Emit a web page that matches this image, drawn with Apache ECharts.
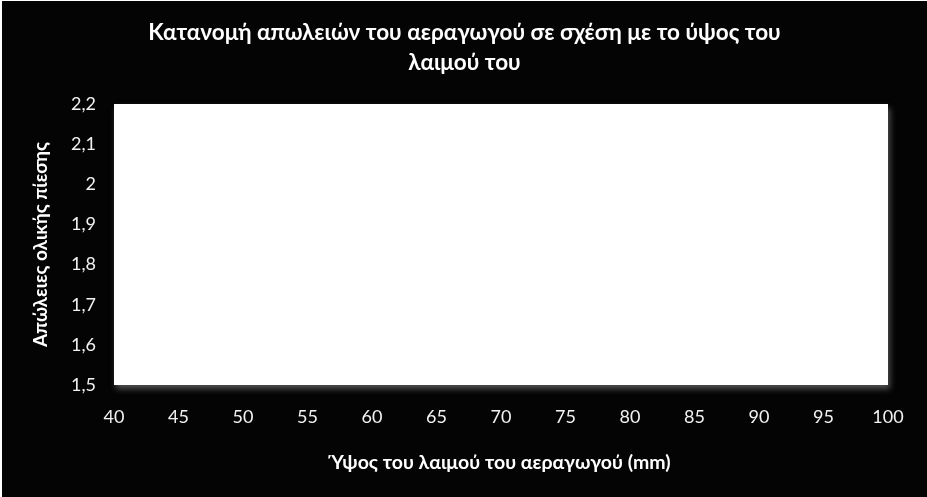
<!DOCTYPE html>
<html>
<head>
<meta charset="utf-8">
<script src="https://cdn.jsdelivr.net/npm/echarts@6/dist/echarts.min.js"></script>
<style>
html,body{margin:0;padding:0;background:#000;}
#c{width:927px;height:497px;box-sizing:border-box;border-left:2px solid #fff;border-top:1px solid #fff;}
</style>
</head>
<body>
<div id="c"></div>
<script>
// Axis ticks and (empty) series
const xTicks = [40, 45, 50, 55, 60, 65, 70, 75, 80, 85, 90, 95, 100];
const yTicks = [1.5, 1.6, 1.7, 1.8, 1.9, 2.0, 2.1, 2.2];
const seriesData = []; // the reference plot area contains no marks

const titleText = 'Κατανομή απωλειών του αεραγωγού σε σχέση με το ύψος του\nλαιμού του';
const xName = 'Ύψος του λαιμού του αεραγωγού (mm)';
const yName = 'Απώλειες ολικής πίεσης';

const chart = echarts.init(document.getElementById('c'));
const fontFamily = 'Lato, "Open Sans", sans-serif';
chart.setOption({
  backgroundColor: '#040404',
  animation: false,
  title: {
    text: titleText,
    left: 'center',
    top: 12,
    padding: [5, 19, 5, 5],
    textStyle: { color: '#fff', fontSize: 22.5, fontWeight: 'bold', fontFamily, lineHeight: 30 }
  },
  grid: {
    left: 112, right: 39, top: 103, bottom: 112,
    show: true, backgroundColor: '#fff', borderWidth: 0,
    shadowColor: 'rgba(90,90,90,0.9)', shadowBlur: 6, shadowOffsetY: 4, shadowOffsetX: 2
  },
  xAxis: {
    type: 'value',
    min: xTicks[0], max: xTicks[xTicks.length - 1], interval: 5,
    name: xName, nameLocation: 'middle', nameGap: 68,
    nameTextStyle: { color: '#fff', fontSize: 19.5, fontWeight: 'bold', fontFamily },
    axisLine: { show: false }, axisTick: { show: false }, splitLine: { show: false },
    axisLabel: { color: '#f2f2f2', fontSize: 18, fontFamily, margin: 23 }
  },
  yAxis: {
    type: 'value',
    min: yTicks[0], max: yTicks[yTicks.length - 1], interval: 0.1,
    name: yName, nameLocation: 'middle', nameGap: 64, nameRotate: 90,
    nameTextStyle: { color: '#fff', fontSize: 19, fontWeight: 'bold', fontFamily },
    axisLine: { show: false }, axisTick: { show: false }, splitLine: { show: false },
    axisLabel: {
      color: '#f2f2f2', fontSize: 18, fontFamily, margin: 18,
      formatter: v => String(Math.round(v * 10) / 10).replace('.', ',')
    }
  },
  series: [{ type: 'scatter', data: seriesData }]
});
</script>
</body>
</html>
